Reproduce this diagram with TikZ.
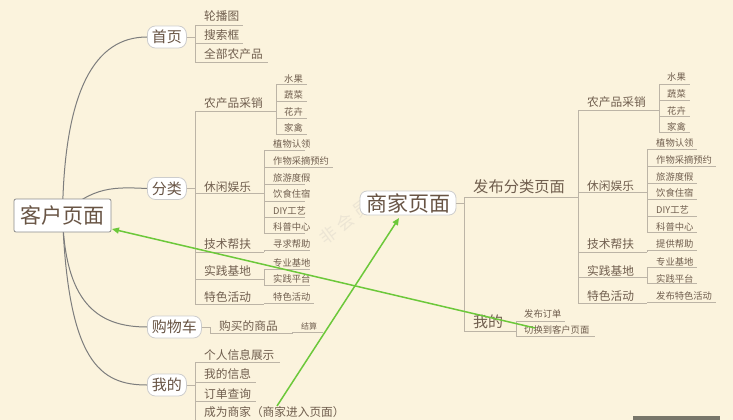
\documentclass[tikz,border=0pt]{standalone}
\usepackage{fontspec}
\setmainfont{Noto Sans CJK SC}
\usetikzlibrary{arrows.meta}
\definecolor{paper}{RGB}{251,243,221}
\definecolor{ink}{RGB}{112,94,78}
\definecolor{inkdark}{RGB}{104,84,68}
\definecolor{rulec}{RGB}{188,180,166}
\definecolor{bough}{RGB}{125,125,125}
\definecolor{boxline}{RGB}{205,205,205}
\definecolor{rootline}{RGB}{140,140,140}
\definecolor{linkgreen}{RGB}{108,200,58}
\definecolor{ghost}{RGB}{236,229,212}
\definecolor{barc}{RGB}{120,118,106}
\pgfdeclarelayer{paperlayer}
\pgfdeclarelayer{boughs}
\pgfsetlayers{paperlayer,boughs,main}
% leaf: style, name, spine x, text x, text y, rule y, rule end x, text
\newcommand\twig[8]{%
  \node[#1] (#2) at (#4,#5) {#8};
  \draw[rule line] (#3,#6) -- (#7,#6);
}
\begin{document}
\begin{tikzpicture}[x=1pt,y=-1pt,
  lbl/.style={inner sep=0pt, anchor=west, text=ink},
  tiny/.style={lbl, font=\fontsize{8}{8}\selectfont},
  small/.style={lbl, font=\fontsize{9.3}{10}\selectfont},
  mid/.style={lbl, font=\fontsize{11.7}{12}\selectfont},
  big/.style={lbl, font=\fontsize{15}{15}\selectfont},
  topic/.style={draw=boxline, fill=white, rounded corners=8pt, line width=0.8pt,
    inner xsep=4.5pt, inner ysep=0pt, minimum height=22pt, anchor=west,
    text=inkdark, font=\fontsize{15}{15}\selectfont},
  rootbox/.style={draw=rootline, fill=white, rounded corners=2pt, line width=0.8pt,
    minimum width=97pt, minimum height=33pt, inner sep=0pt,
    text=inkdark, font=\fontsize{21}{21}\selectfont},
  hubbox/.style={draw=boxline, fill=white, rounded corners=7pt, line width=0.8pt,
    minimum width=96pt, minimum height=24pt, inner sep=0pt,
    text=inkdark, font=\fontsize{21}{21}\selectfont},
  rule line/.style={draw=rulec, line width=0.9pt},
  bough line/.style={draw=bough, line width=1pt},
  link/.style={draw=linkgreen, line width=1.5pt, -{Triangle[length=7pt,width=6pt]}},
  ghostmark/.style={rotate=37, inner sep=0pt, text=ghost,
    font=\fontsize{17}{17}\selectfont},
]
\begin{pgfonlayer}{paperlayer}
  \fill[paper] (0,0) rectangle (733,420);
  % faint watermark, one glyph per node
  \node[ghostmark] (wm1) at (328,235) {非};
  \node[ghostmark] (wm2) at (345,222) {会};
  \node[ghostmark] (wm3) at (362,209) {员};
  \fill[barc] (633,416) rectangle (720,420);
\end{pgfonlayer}
\useasboundingbox (0,0) rectangle (733,420);

% ---------------- customer page ----------------
\node[rootbox] (root) at (62.5,215.5) {客户页面};
\node[topic] (home) at (147,37) {首页};
\node[topic] (cat) at (147,188.5) {分类};
\node[topic] (cart) at (147,327) {购物车};
\node[topic] (mine) at (147,385) {我的};

\begin{pgfonlayer}{boughs}
  \draw[bough line] (root.center) .. controls (64,90) and (95,37) .. (home.west);
  \draw[bough line] (root.center) .. controls (92,186) and (115,187) .. (cat.west);
  \draw[bough line] (root.center) .. controls (65,300) and (95,327) .. (cart.west);
  \draw[bough line] (root.center) .. controls (68,362) and (100,385) .. (mine.west);
\end{pgfonlayer}

% home
\draw[rule line] (home.east) -- (195,37);
\draw[rule line] (195,25) -- (195,62);
\twig{mid}{lunbo}{195}{204}{16}{25}{243}{轮播图}
\twig{mid}{sousuo}{195}{204}{35}{43}{243}{搜索框}
\twig{mid}{quanbu}{195}{204}{54}{62}{268}{全部农产品}

% categories
\draw[rule line] (cat.east) -- (195,188.5);
\draw[rule line] (195,111) -- (195,304);
\twig{mid}{cxA}{195}{204}{103}{111}{276}{农产品采销}
\draw[rule line] (276,84) -- (276,134);
\twig{small}{cxA1}{276}{284}{79}{84}{307}{水果}
\twig{small}{cxA2}{276}{284}{95}{101}{307}{蔬菜}
\twig{small}{cxA3}{276}{284}{112}{118}{307}{花卉}
\twig{small}{cxA4}{276}{284}{128}{134}{307}{家禽}
\twig{mid}{cxB}{195}{204}{187}{193}{264}{休闲娱乐}
\draw[rule line] (264,150) -- (264,233);
\twig{small}{cxB1}{264}{273}{144}{150}{305}{植物认领}
\twig{small}{cxB2}{264}{273}{161}{167}{333}{作物采摘预约}
\twig{small}{cxB3}{264}{273}{178}{184}{305}{旅游度假}
\twig{small}{cxB4}{264}{273}{194}{201}{305}{饮食住宿}
\twig{small}{cxB5}{264}{273}{211}{217}{305}{DIY工艺}
\twig{small}{cxB6}{264}{273}{227}{233}{305}{科普中心}
\twig{mid}{cxC}{195}{204}{244}{252}{264}{技术帮扶}
\draw[rule line] (264,250) -- (264,252);
\twig{small}{cxC1}{264}{273}{244}{250}{310}{寻求帮助}
\twig{mid}{cxD}{195}{204}{271}{279}{264}{实践基地}
\draw[rule line] (264,269) -- (264,285);
\twig{small}{cxD1}{264}{273}{263}{269}{310}{专业基地}
\twig{small}{cxD2}{264}{273}{279}{285}{310}{实践平台}
\twig{mid}{cxE}{195}{204}{297}{304}{264}{特色活动}
\draw[rule line] (264,303) -- (264,304);
\twig{small}{cxE1}{264}{273}{297}{303}{314}{特色活动}

% cart
\node[mid] (bought) at (219,326) {购买的商品};
\draw[rule line] (cart.east) -- (210,327) -- (210,333) -- (292,333) -- (292,332) -- (323,332);
\node[tiny] (pay) at (301,326) {结算};

% mine
\draw[rule line] (mine.east) -- (195,385);
\draw[rule line] (195,362) -- (195,421);
\twig{mid}{myA}{195}{204}{355}{362}{280}{个人信息展示}
\twig{mid}{myB}{195}{204}{374}{382}{256}{我的信息}
\twig{mid}{myC}{195}{204}{394}{401}{256}{订单查询}
\node[mid] (myD) at (204,412) {成为商家（商家进入页面）};

% ---------------- merchant page ----------------
\node[hubbox] (hub) at (408,203) {商家页面};
\draw[rule line] (hub.east) -- (464,203);
\draw[rule line] (464,197) -- (464,331);
\node[lbl, font=\fontsize{15.3}{15}\selectfont] (pub) at (473,187) {发布分类页面};
\draw[rule line] (464,197) -- (578,197);
\node[big] (mymer) at (473,322) {我的};
\draw[rule line] (464,331) -- (516,331);
\draw[rule line] (516,321) -- (516,336);
\twig{small}{mo1}{516}{524}{314}{321}{565}{发布订单}
\twig{small}{mo2}{516}{524}{330}{336}{595}{切换到客户页面}

\draw[rule line] (578,110) -- (578,303);
\twig{mid}{pA}{578}{587}{102}{110}{659}{农产品采销}
\draw[rule line] (659,84) -- (659,132);
\twig{small}{pA1}{659}{667}{77}{84}{690}{水果}
\twig{small}{pA2}{659}{667}{94}{100}{690}{蔬菜}
\twig{small}{pA3}{659}{667}{111}{116}{690}{花卉}
\twig{small}{pA4}{659}{667}{127}{132}{690}{家禽}
\twig{mid}{pB}{578}{587}{186}{192}{647}{休闲娱乐}
\draw[rule line] (647,149) -- (647,232);
\twig{small}{pB1}{647}{656}{143}{149}{697}{植物认领}
\twig{small}{pB2}{647}{656}{160}{166}{716}{作物采摘预约}
\twig{small}{pB3}{647}{656}{177}{183}{697}{旅游度假}
\twig{small}{pB4}{647}{656}{193}{199}{697}{饮食住宿}
\twig{small}{pB5}{647}{656}{210}{216}{697}{DIY工艺}
\twig{small}{pB6}{647}{656}{227}{232}{697}{科普中心}
\twig{mid}{pC}{578}{587}{244}{252}{647}{技术帮扶}
\draw[rule line] (647,250) -- (647,252);
\twig{small}{pC1}{647}{656}{244}{250}{697}{提供帮助}
\twig{mid}{pD}{578}{587}{271}{277}{647}{实践基地}
\draw[rule line] (647,267) -- (647,283);
\twig{small}{pD1}{647}{656}{262}{267}{697}{专业基地}
\twig{small}{pD2}{647}{656}{279}{283}{697}{实践平台}
\twig{mid}{pE}{578}{587}{296}{303}{647}{特色活动}
\draw[rule line] (647,302) -- (647,303);
\twig{small}{pE1}{647}{656}{296}{302}{716}{发布特色活动}

% ---------------- page switches ----------------
\coordinate (fromMer) at (535,328);
\coordinate (toCust) at (112,229);
\draw[link] (fromMer) -- (toCust);
\coordinate (fromCust) at (277,406);
\coordinate (toMer) at (399,218);
\draw[link] (fromCust) -- (toMer);
\end{tikzpicture}
\end{document}
